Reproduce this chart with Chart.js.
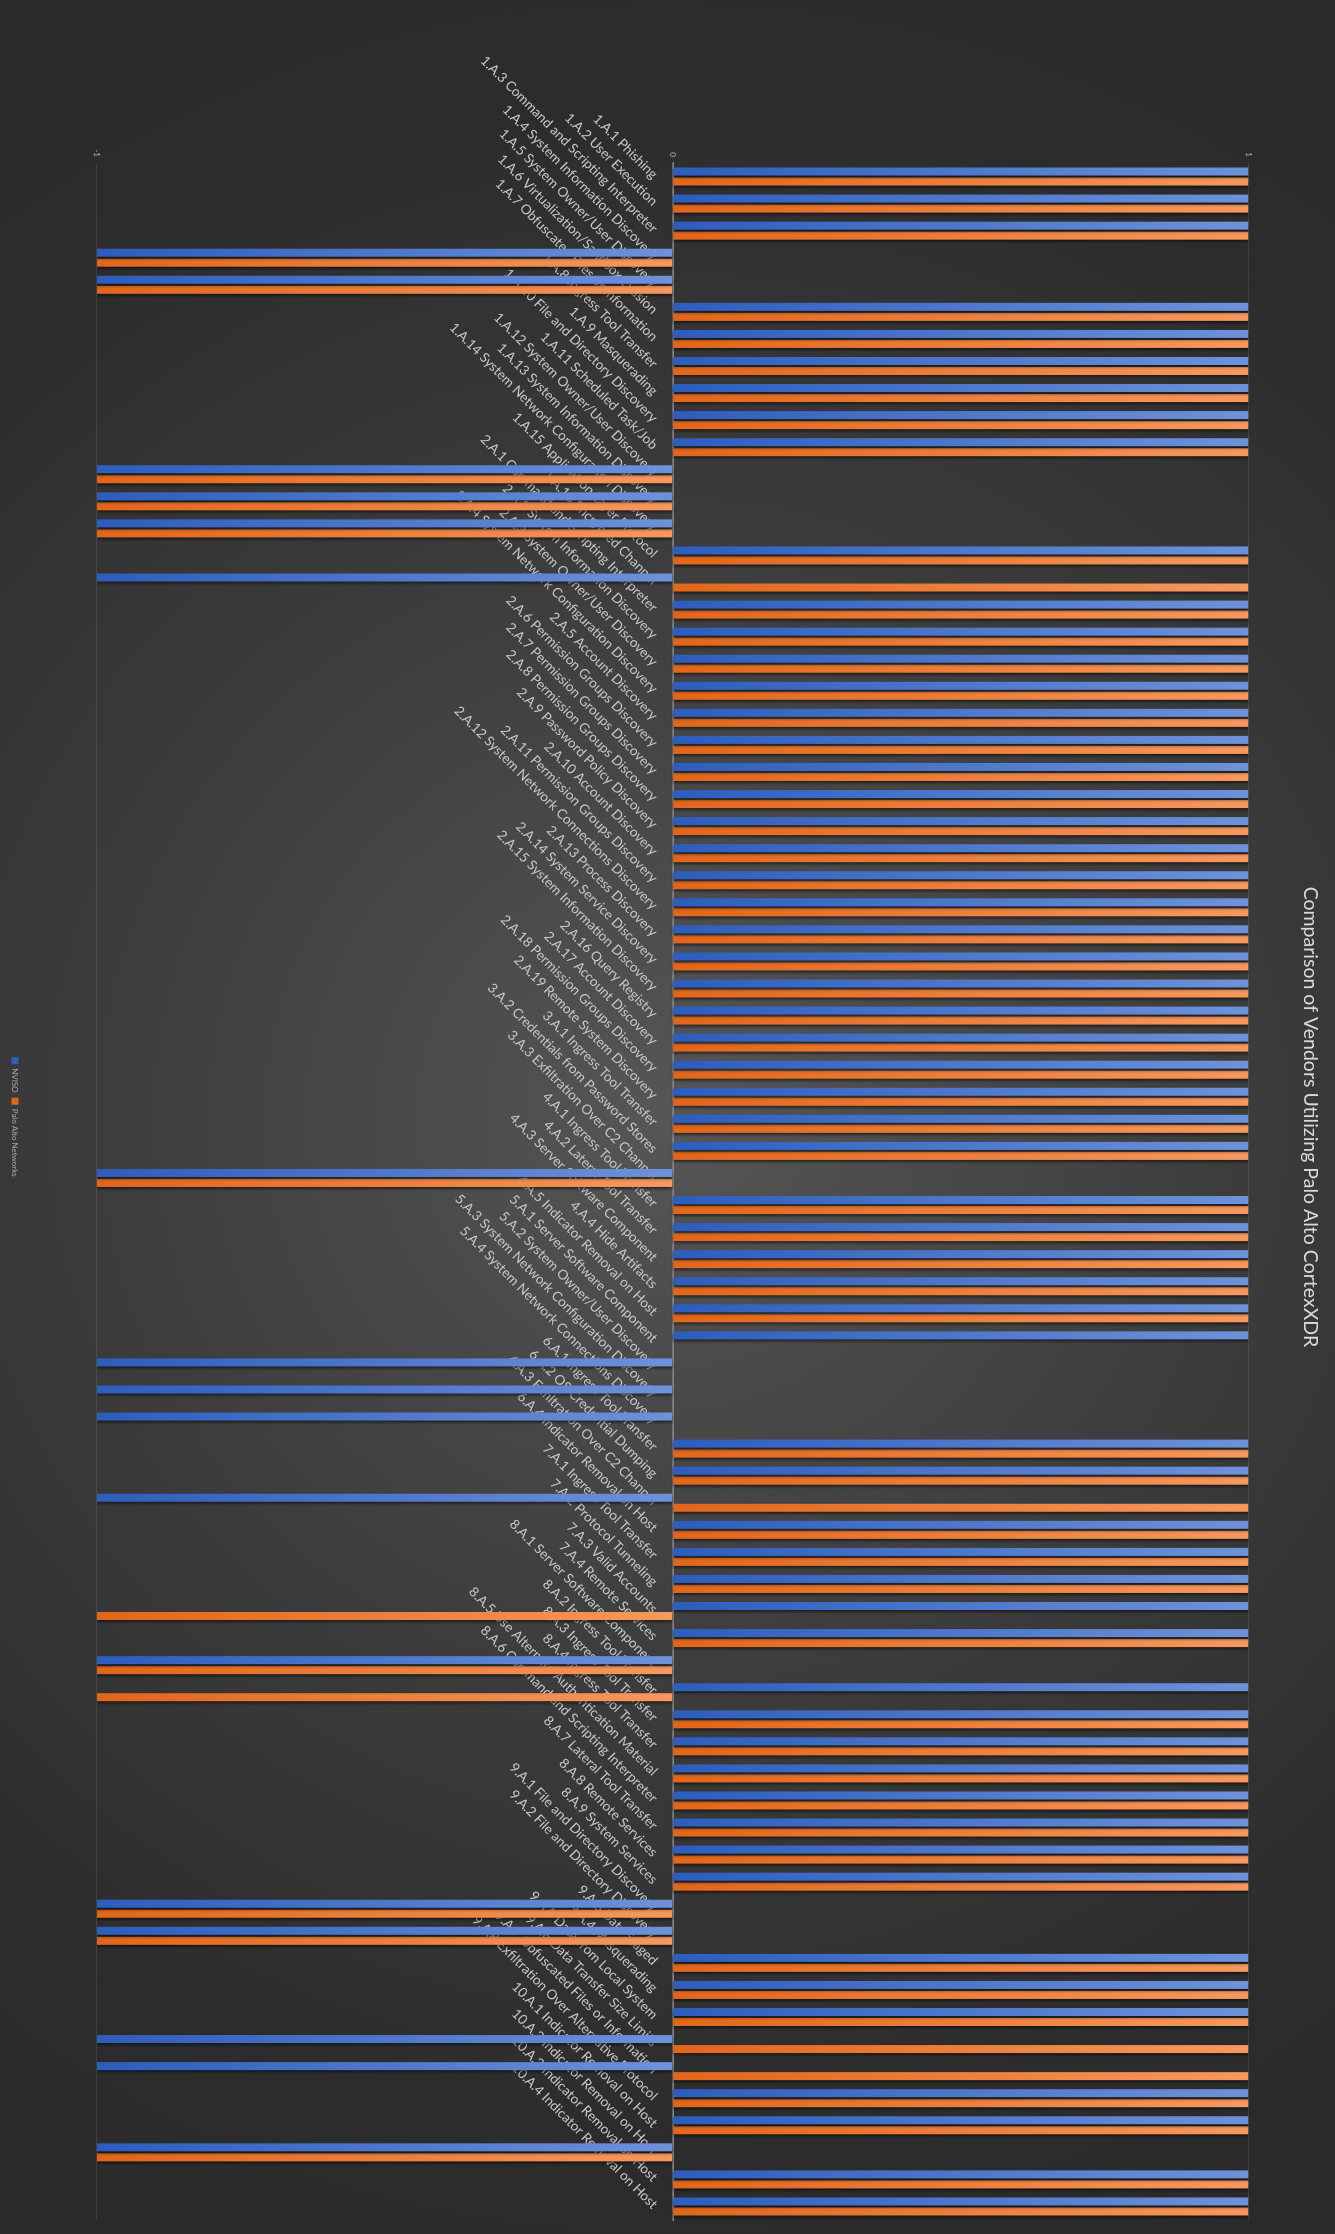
<!DOCTYPE html>
<html lang="en">
<head>
<title>Comparison of Vendors Utilizing Palo Alto CortexXDR</title>
<meta charset="utf-8"/>
<style>
    html, body {
      margin: 0;
      padding: 0;
    }
    body {
      width: 1335px;
      height: 2234px;
      overflow: hidden;
      background: radial-gradient(circle farthest-corner at 50% 50%, #565656 0%, #3c3c3c 44%, #2c2c2c 78%, #2a2a2a 100%);
    }
    /* the chart is drawn landscape and turned a quarter clockwise */
    #wrap {
      position: absolute;
      top: 0;
      left: 0;
      width: 2234px;
      height: 1335px;
      transform-origin: 0 0;
      transform: translateX(1335px) rotate(90deg);
    }
  </style>
</head>
<body>
<div id="wrap">
<canvas id="vendors" width="2234" height="1335"></canvas>
</div>
<script src="https://cdn.jsdelivr.net/npm/chart.js"></script>
<script>
    const categories = [
      '1.A.1 Phishing',
      '1.A.2 User Execution',
      '1.A.3 Command and Scripting Interpreter',
      '1.A.4 System Information Discovery',
      '1.A.5 System Owner/User Discovery',
      '1.A.6 Virtualization/Sandbox Evasion',
      '1.A.7 Obfuscated Files or Information',
      '1.A.8 Ingress Tool Transfer',
      '1.A.9 Masquerading',
      '1.A.10 File and Directory Discovery',
      '1.A.11 Scheduled Task/Job',
      '1.A.12 System Owner/User Discovery',
      '1.A.13 System Information Discovery',
      '1.A.14 System Network Configuration Discovery',
      '1.A.15 Application Layer Protocol',
      '1.A.16 Encrypted Channel',
      '2.A.1 Command and Scripting Interpreter',
      '2.A.2 System Information Discovery',
      '2.A.3 System Owner/User Discovery',
      '2.A.4 System Network Configuration Discovery',
      '2.A.5 Account Discovery',
      '2.A.6 Permission Groups Discovery',
      '2.A.7 Permission Groups Discovery',
      '2.A.8 Permission Groups Discovery',
      '2.A.9 Password Policy Discovery',
      '2.A.10 Account Discovery',
      '2.A.11 Permission Groups Discovery',
      '2.A.12 System Network Connections Discovery',
      '2.A.13 Process Discovery',
      '2.A.14 System Service Discovery',
      '2.A.15 System Information Discovery',
      '2.A.16 Query Registry',
      '2.A.17 Account Discovery',
      '2.A.18 Permission Groups Discovery',
      '2.A.19 Remote System Discovery',
      '3.A.1 Ingress Tool Transfer',
      '3.A.2 Credentials from Password Stores',
      '3.A.3 Exfiltration Over C2 Channel',
      '4.A.1 Ingress Tool Transfer',
      '4.A.2 Lateral Tool Transfer',
      '4.A.3 Server Software Component',
      '4.A.4 Hide Artifacts',
      '4.A.5 Indicator Removal on Host',
      '5.A.1 Server Software Component',
      '5.A.2 System Owner/User Discovery',
      '5.A.3 System Network Configuration Discovery',
      '5.A.4 System Network Connections Discovery',
      '6.A.1 Ingress Tool Transfer',
      '6.A.2 OS Credential Dumping',
      '6.A.3 Exfiltration Over C2 Channel',
      '6.A.4 Indicator Removal on Host',
      '7.A.1 Ingress Tool Transfer',
      '7.A.2 Protocol Tunneling',
      '7.A.3 Valid Accounts',
      '7.A.4 Remote Services',
      '8.A.1 Server Software Component',
      '8.A.2 Ingress Tool Transfer',
      '8.A.3 Ingress Tool Transfer',
      '8.A.4 Ingress Tool Transfer',
      '8.A.5 Use Alternate Authentication Material',
      '8.A.6 Command and Scripting Interpreter',
      '8.A.7 Lateral Tool Transfer',
      '8.A.8 Remote Services',
      '8.A.9 System Services',
      '9.A.1 File and Directory Discovery',
      '9.A.2 File and Directory Discovery',
      '9.A.3 Data Staged',
      '9.A.4 Masquerading',
      '9.A.5 Data from Local System',
      '9.A.6 Data Transfer Size Limits',
      '9.A.7 Obfuscated Files or Information',
      '9.A.8 Exfiltration Over Alternative Protocol',
      '10.A.1 Indicator Removal on Host',
      '10.A.2 Indicator Removal on Host',
      '10.A.3 Indicator Removal on Host',
      '10.A.4 Indicator Removal on Host'
    ];

    // one value per category, same order as above
    const nviso = [
      1, 1, 1, -1, -1, 1, 1, 1, 1, 1, 1, -1, -1, -1, 1, -1,
      1, 1, 1, 1, 1, 1, 1, 1, 1, 1, 1, 1, 1, 1, 1, 1, 1, 1, 1,
      1, 1, -1,
      1, 1, 1, 1, 1,
      1, -1, -1, -1,
      1, 1, -1, 1,
      1, 1, 1, 1,
      -1, 1, 1, 1, 1, 1, 1, 1, 1,
      -1, -1, 1, 1, 1, -1, -1, 1,
      1, -1, 1, 1
    ];
    const paloAlto = [
      1, 1, 1, -1, -1, 1, 1, 1, 1, 1, 1, -1, -1, -1, 1, 1,
      1, 1, 1, 1, 1, 1, 1, 1, 1, 1, 1, 1, 1, 1, 1, 1, 1, 1, 1,
      1, 1, -1,
      1, 1, 1, 1, 1,
      0, 0, 0, 0,
      1, 1, 1, 1,
      1, 1, -1, 1,
      -1, -1, 1, 1, 1, 1, 1, 1, 1,
      -1, -1, 1, 1, 1, 1, 1, 1,
      1, -1, 1, 1
    ];
    const valueTicks = [-1, 0, 1];

    const FONT = 'Lato, "Open Sans", sans-serif';

    // each bar gets its own gradient, dark at its low end, light at its high end
    function barFill(dark, light) {
      return function(c) {
        const chart = c.chart;
        const y = chart.scales.y;
        if (!chart.chartArea || !y || typeof c.raw !== 'number' || c.raw === 0) return dark;
        const from = y.getPixelForValue(Math.min(c.raw, 0));
        const to = y.getPixelForValue(Math.max(c.raw, 0));
        const g = chart.ctx.createLinearGradient(0, from, 0, to);
        g.addColorStop(0, dark);
        g.addColorStop(1, light);
        return g;
      };
    }

    const barShadow = {
      id: 'barShadow',
      beforeDatasetsDraw(chart) {
        const ctx = chart.ctx;
        ctx.save();
        ctx.shadowColor = 'rgba(0, 0, 0, 0.55)';
        ctx.shadowBlur = 3;
        ctx.shadowOffsetX = 2;
        ctx.shadowOffsetY = 0;
      },
      afterDatasetsDraw(chart) {
        chart.ctx.restore();
      }
    };

    new Chart(document.getElementById('vendors'), {
      type: 'bar',
      data: {
        labels: categories,
        datasets: [
          {
            label: 'NVISO',
            data: nviso,
            backgroundColor: barFill('#2d5dbd', '#6e92da'),
            borderWidth: 0,
            categoryPercentage: 0.74,
            barPercentage: 0.8
          },
          {
            label: 'Palo Alto Networks',
            data: paloAlto,
            backgroundColor: barFill('#e2661a', '#f7985e'),
            borderWidth: 0,
            categoryPercentage: 0.74,
            barPercentage: 0.8
          }
        ]
      },
      options: {
        responsive: false,
        devicePixelRatio: 1,
        animation: false,
        layout: {
          padding: { top: 0, right: 14, bottom: 1, left: 14 }
        },
        scales: {
          x: {
            position: { y: 0 },
            z: 1,
            grid: { display: false },
            border: { display: true, color: '#858585', width: 1.5 },
            ticks: {
              autoSkip: false,
              minRotation: 45,
              maxRotation: 45,
              padding: 4,
              color: '#c6c6c6',
              font: { family: FONT, size: 13.5 }
            }
          },
          y: {
            min: -1,
            max: 1,
            afterBuildTicks(scale) {
              scale.ticks = valueTicks.map(v => ({ value: v }));
            },
            afterFit(scale) {
              scale.width = 149;
            },
            grid: { color: 'rgba(255, 255, 255, 0.09)', drawTicks: false },
            border: { display: false },
            ticks: {
              padding: 6,
              color: '#bfbfbf',
              font: { family: FONT, size: 8 }
            }
          }
        },
        plugins: {
          title: {
            display: true,
            text: 'Comparison of Vendors Utilizing Palo Alto CortexXDR',
            color: '#d9d9d9',
            font: { family: FONT, size: 19.5, weight: 'normal' },
            padding: { top: 13, bottom: 50 }
          },
          // empty line that keeps the legend away from the plot
          subtitle: {
            display: true,
            text: '',
            position: 'bottom',
            weight: 100,
            font: { size: 10 },
            padding: { top: 30, bottom: 31 }
          },
          legend: {
            position: 'bottom',
            labels: {
              color: '#a6a6a6',
              font: { family: FONT, size: 8 },
              boxWidth: 7,
              boxHeight: 7,
              padding: 5
            }
          },
          tooltip: { enabled: false }
        }
      },
      plugins: [barShadow]
    });
  </script>
</body>
</html>
